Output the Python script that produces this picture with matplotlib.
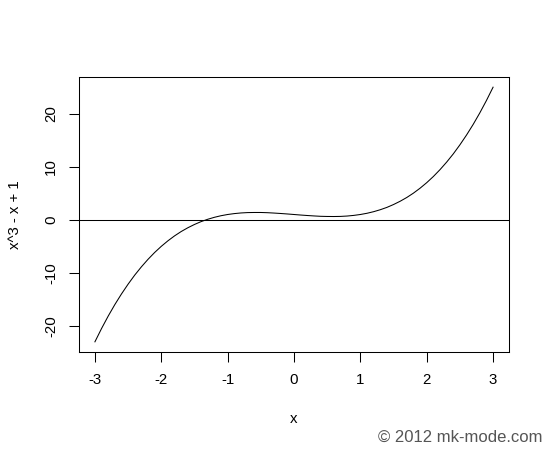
import matplotlib
matplotlib.use('Agg')
from matplotlib import pyplot as plt

# values, every 0.1 along x
x_values = [-3.0, -2.9, -2.8, -2.7, -2.6, -2.5, -2.4, -2.3, -2.2, -2.1, -2.0,
            -1.9, -1.8, -1.7, -1.6, -1.5, -1.4, -1.3, -1.2, -1.1, -1.0,
            -0.9, -0.8, -0.7, -0.6, -0.5, -0.4, -0.3, -0.2, -0.1, 0.0,
            0.1, 0.2, 0.3, 0.4, 0.5, 0.6, 0.7, 0.8, 0.9, 1.0,
            1.1, 1.2, 1.3, 1.4, 1.5, 1.6, 1.7, 1.8, 1.9, 2.0,
            2.1, 2.2, 2.3, 2.4, 2.5, 2.6, 2.7, 2.8, 2.9, 3.0]
y_values = [-23.0, -20.49, -18.15, -15.98, -13.98, -12.13, -10.42, -8.87, -7.45, -6.16, -5.0,
            -3.96, -3.03, -2.21, -1.5, -0.88, -0.34, 0.1, 0.47, 0.77, 1.0,
            1.17, 1.29, 1.36, 1.38, 1.38, 1.34, 1.27, 1.19, 1.1, 1.0,
            0.9, 0.81, 0.73, 0.66, 0.63, 0.62, 0.64, 0.71, 0.83, 1.0,
            1.23, 1.53, 1.9, 2.34, 2.88, 3.5, 4.21, 5.03, 5.96, 7.0,
            8.16, 9.45, 10.87, 12.42, 14.13, 15.98, 17.98, 20.15, 22.49, 25.0]
x_ticks = [-3, -2, -1, 0, 1, 2, 3]
y_ticks = [-20, -10, 0, 10, 20]

plt.rcParams['font.family'] = ['Liberation Sans', 'DejaVu Sans']

fig = plt.figure(figsize=(5.5, 4.5), dpi=100)
ax = fig.add_axes([79 / 550, 1 - 352 / 450, 430 / 550, 275 / 450])

ax.plot(x_values, y_values, color='black', linewidth=0.75)
ax.axhline(0, color='black', linewidth=0.75)

# R style 4% padding around the data range
ax.set_xlim(-3.24, 3.24)
ax.set_ylim(-24.92, 26.92)

ax.set_xticks(x_ticks)
ax.set_xticklabels([str(v) for v in x_ticks])
ax.set_yticks(y_ticks)
ax.set_yticklabels([str(v) for v in y_ticks], rotation=90, va='center')

ax.tick_params(axis='both', direction='out', length=7, width=0.75, labelsize=10.8, colors='black')
ax.tick_params(axis='x', pad=8)
ax.tick_params(axis='y', pad=8)

for spine in ax.spines.values():
    spine.set_linewidth(0.75)
    spine.set_color('black')

fig.text(294 / 550, 1 - 419 / 450, 'x', ha='center', va='center', fontsize=10.8)
fig.text(15 / 550, 1 - 215 / 450, 'x^3 - x + 1', ha='center', va='center', rotation=90, fontsize=10.8)
fig.text(543 / 550, 1 - 437 / 450, '\u00a9 2012 mk-mode.com', ha='right', va='center',
         fontsize=12, color='#555555')

plt.savefig('out.png', dpi=100)
